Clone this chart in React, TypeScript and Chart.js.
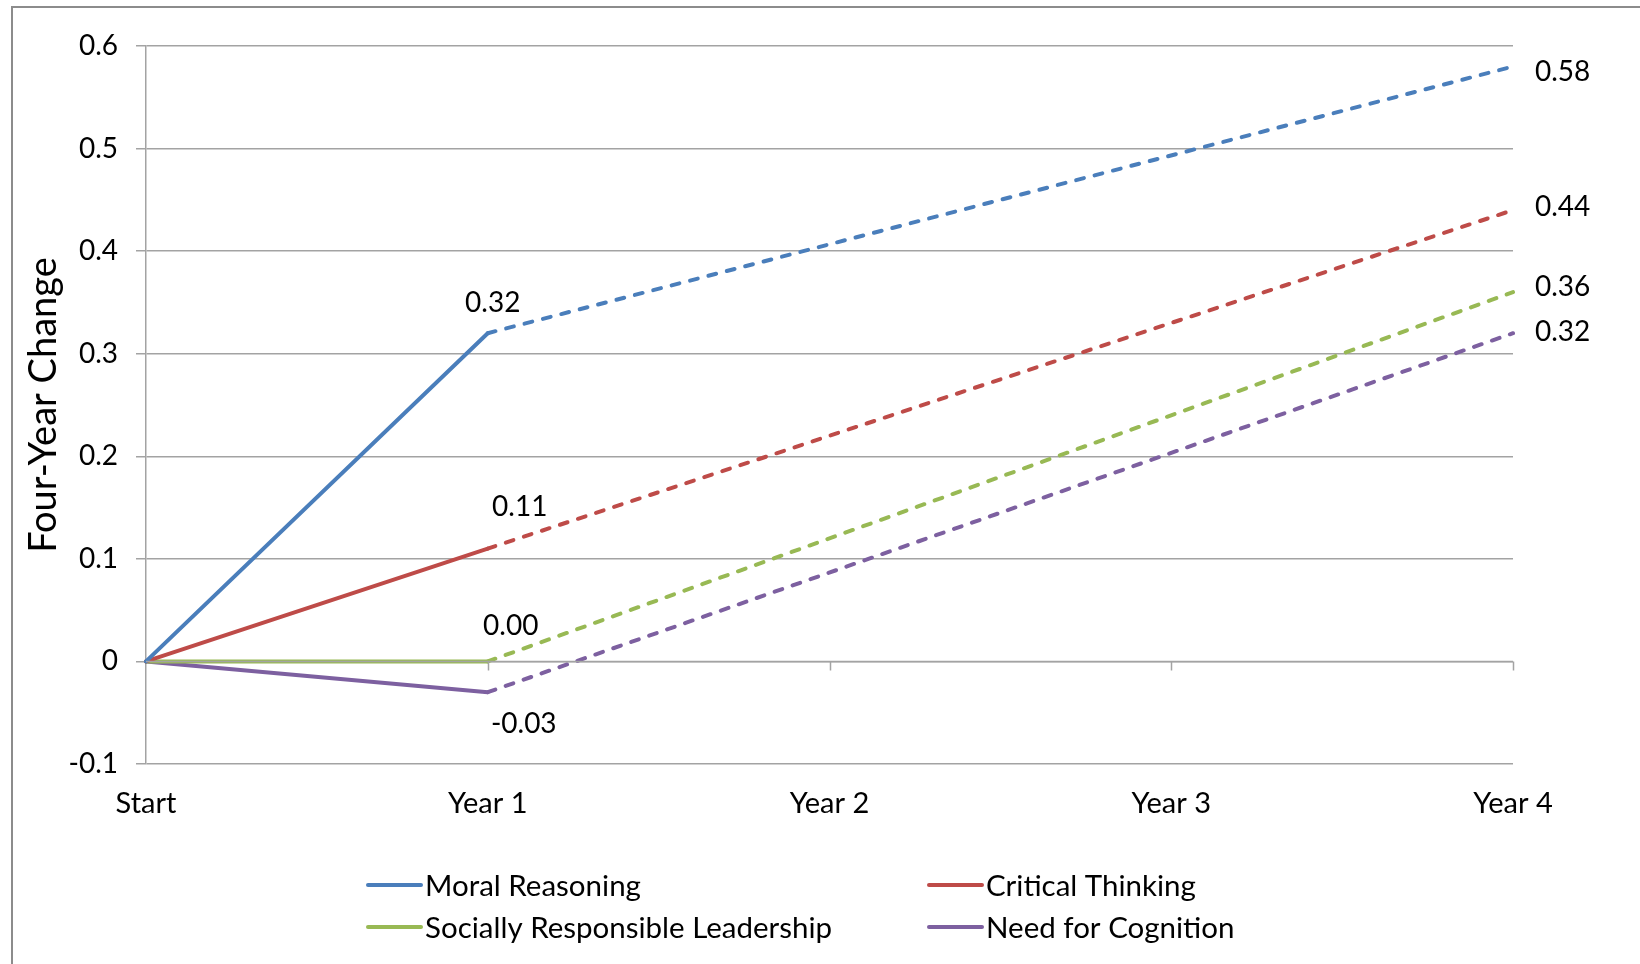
import React, { useEffect, useRef } from "react";
import { Chart, registerables } from "chart.js";

Chart.register(...registerables);

// Category axis and series values (four-year change in effect size)
const categories = ["Start", "Year 1", "Year 2", "Year 3", "Year 4"];
const moralReasoning = [0, 0.32, null, null, 0.58];
const criticalThinking = [0, 0.11, null, null, 0.44];
const sociallyResponsibleLeadership = [0, 0.0, null, null, 0.36];
const needForCognition = [0, -0.03, null, null, 0.32];

const seriesNames = [
  "Moral Reasoning",
  "Critical Thinking",
  "Socially Responsible Leadership",
  "Need for Cognition",
];
const seriesValues = [moralReasoning, criticalThinking, sociallyResponsibleLeadership, needForCognition];
const seriesColors = ["#4A7EBB", "#BE4B48", "#98B954", "#7D60A0"];

const yMin = -0.1;
const yMax = 0.6;
const yStep = 0.1;
const yTitle = "Four-Year Change";

const FONT = "Lato, 'Open Sans', sans-serif";
const GRID = "#a3a3a3";

// label placement (pixel offsets relative to the point)
const year1LabelOffsets = [
  [5, -30],
  [32, -42],
  [23, -35],
  [36, 32],
];
const endLabelOffsets = [5, -3, -5, -1];

const fmtValue = (v: number) => v.toFixed(2);

const decorPlugin = {
  id: "decor",
  beforeDraw(chart: any) {
    const { ctx, width, height } = chart;
    ctx.save();
    ctx.fillStyle = "#ffffff";
    ctx.fillRect(0, 0, width, height);
    // outer frame (left and top edges)
    ctx.strokeStyle = "#8c8c8c";
    ctx.lineWidth = 2;
    ctx.beginPath();
    ctx.moveTo(12, height);
    ctx.lineTo(12, 7);
    ctx.lineTo(width, 7);
    ctx.stroke();
    ctx.restore();
  },
  afterDraw(chart: any) {
    const { ctx, scales, chartArea } = chart;
    const x = scales.x;
    const y = scales.y;
    ctx.save();
    // category tick marks hanging from the zero line
    const y0 = y.getPixelForValue(0);
    ctx.strokeStyle = GRID;
    ctx.lineWidth = 1.5;
    ctx.beginPath();
    ctx.moveTo(chartArea.left, y0);
    ctx.lineTo(chartArea.right, y0);
    for (let i = 1; i < categories.length; i++) {
      const px = Math.round(x.getPixelForValue(i)) + 0.5;
      ctx.moveTo(px, y0);
      ctx.lineTo(px, y0 + 9);
    }
    ctx.stroke();

    // value labels
    ctx.fillStyle = "#000";
    ctx.font = `28px ${FONT}`;
    chart.data.datasets.forEach((ds: any, di: number) => {
      const meta = chart.getDatasetMeta(di);
      const p1 = meta.data[1];
      const o = year1LabelOffsets[di];
      ctx.textAlign = "center";
      ctx.textBaseline = "middle";
      ctx.fillText(fmtValue(ds.data[1]), p1.x + o[0], p1.y + o[1]);
      const last = ds.data.length - 1;
      const pe = meta.data[last];
      ctx.textAlign = "left";
      ctx.fillText(fmtValue(ds.data[last]), pe.x + 22, pe.y + endLabelOffsets[di]);
    });

    // axis title
    ctx.save();
    ctx.translate(44, (chartArea.top + chartArea.bottom) / 2);
    ctx.rotate(-Math.PI / 2);
    ctx.font = `38px ${FONT}`;
    ctx.textAlign = "center";
    ctx.textBaseline = "middle";
    ctx.fillText(yTitle, 0, 0);
    ctx.restore();

    // legend in two columns
    const cols = [368, 929];
    const rows = [885, 927];
    ctx.font = `29.5px ${FONT}`;
    ctx.textAlign = "left";
    ctx.textBaseline = "middle";
    chart.data.datasets.forEach((ds: any, di: number) => {
      const lx = cols[di % 2];
      const ly = rows[Math.floor(di / 2)];
      ctx.strokeStyle = ds.borderColor;
      ctx.lineWidth = 4;
      ctx.lineCap = "round";
      ctx.beginPath();
      ctx.moveTo(lx, ly);
      ctx.lineTo(lx + 53, ly);
      ctx.stroke();
      ctx.fillStyle = "#000";
      ctx.fillText(ds.label, lx + 57, ly + 1);
    });
    ctx.restore();
  },
};

export default function App() {
  const canvasRef = useRef<HTMLCanvasElement | null>(null);

  useEffect(() => {
    const canvas = canvasRef.current;
    if (!canvas) return;
    const chart = new Chart(canvas, {
      type: "line",
      data: {
        labels: categories,
        datasets: seriesNames.map((name, i) => ({
          label: name,
          data: seriesValues[i],
          borderColor: seriesColors[i],
          backgroundColor: seriesColors[i],
          borderWidth: 4,
          borderCapStyle: "round",
          borderJoinStyle: "round",
          pointRadius: 0,
          pointHoverRadius: 0,
          spanGaps: true,
          tension: 0,
          segment: {
            borderDash: (c: any) => (c.p0DataIndex >= 1 ? [8, 11] : undefined),
          },
        })),
      },
      options: {
        animation: false,
        responsive: false,
        devicePixelRatio: 1,
        layout: { padding: { left: 0, top: 46, right: 127, bottom: 140 } },
        plugins: {
          legend: { display: false },
          tooltip: { enabled: false },
        },
        scales: {
          x: {
            type: "category",
            offset: false,
            grid: { display: false, drawTicks: false },
            border: { display: false },
            ticks: {
              color: "#000",
              font: { family: FONT, size: 29 },
              padding: 22,
              maxRotation: 0,
              autoSkip: false,
            },
            afterFit: (s: any) => {
              s.height = 60;
            },
          },
          y: {
            min: yMin,
            max: yMax,
            grid: { color: GRID, lineWidth: 1.5, tickLength: 10, drawTicks: true },
            border: { display: true, color: GRID, width: 1.5 },
            ticks: {
              stepSize: yStep,
              color: "#000",
              font: { family: FONT, size: 28 },
              padding: 18,
              callback: (v: any) => (Math.abs(Number(v)) < 1e-9 ? "0" : Number(v).toFixed(1)),
            },
            afterFit: (s: any) => {
              s.width = 146;
            },
          },
        },
      },
      plugins: [decorPlugin],
    } as any);
    return () => chart.destroy();
  }, []);

  return (
    <div style={{ position: "fixed", left: 0, top: 0, width: 1640, height: 964, background: "#fff" }}>
      <canvas ref={canvasRef} width={1640} height={964} />
    </div>
  );
}
